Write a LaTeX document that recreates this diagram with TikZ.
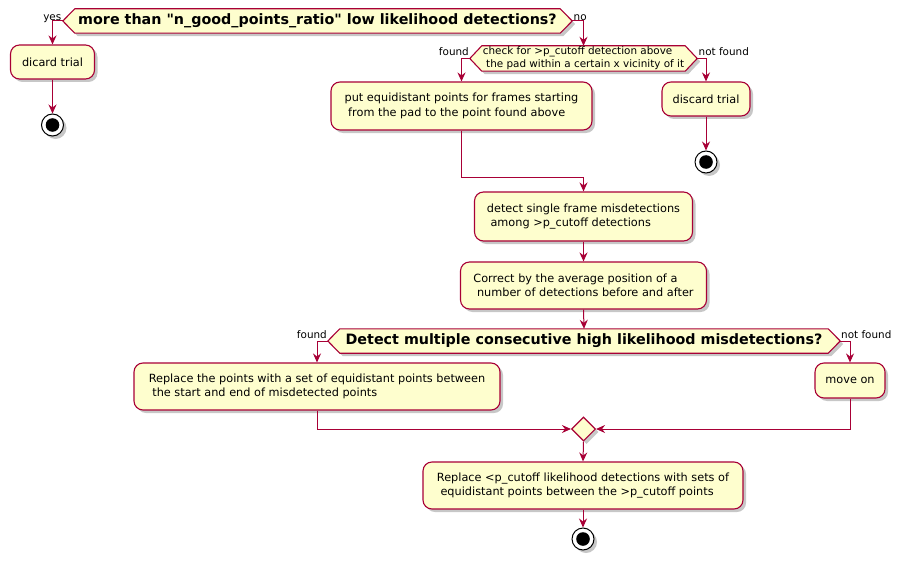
\documentclass[tikz,border=0pt]{standalone}
\usepackage{fontspec}
\setmainfont{DejaVu Sans}
\newfontfamily\plainfont{DejaVu Sans}
\usetikzlibrary{shapes.geometric,arrows.meta,shadows}
\definecolor{pumlred}{HTML}{A80036}
\definecolor{pumlfill}{HTML}{FEFECE}
\newcommand\actfont{\fontsize{11.3}{14.5}\selectfont}
\newcommand\hexbigfont{\fontsize{14.3}{17}\selectfont\bfseries}
\newcommand\hexsmallfont{\fontsize{10.4}{13}\selectfont}
\newcommand\lblfont{\fontsize{10.4}{12}\selectfont}
\newcommand\dq{{\plainfont"}}
\pgfdeclarelayer{bg}
\pgfsetlayers{bg,main}
\tikzset{
  shad/.style={drop shadow={shadow xshift=3pt,shadow yshift=-3pt,opacity=0.22,fill=black}},
  act/.style={draw=pumlred, fill=pumlfill, line width=1.1pt, rounded corners=9pt,
    align=left, font=\actfont, inner sep=0pt, shad},
  hexbody/.style={draw=none, inner sep=0pt, minimum height=24pt, align=left},
  hexline/.style={draw=pumlred, fill=pumlfill, line width=1.1pt, line join=miter,
    preaction={fill=black, fill opacity=0.22, draw=none, transform canvas={xshift=3pt,yshift=-3pt}}},
  flow/.style={draw=pumlred, line width=1pt, -{Stealth[length=9pt,width=8pt,inset=3pt]}},
  lbl/.style={font=\lblfont, inner sep=0pt},
  stopnode/.style={circle, draw=black, fill=white, line width=1pt, minimum size=22pt, inner sep=0pt, shad,
    path picture={\fill[black] (path picture bounding box.center) circle (6.8pt);}},
  mergenode/.style={diamond, aspect=1, draw=pumlred, fill=pumlfill, line width=1.1pt,
    minimum width=24pt, minimum height=24pt, inner sep=0pt, shad},
}
\begin{document}
\begin{tikzpicture}[x=1pt,y=-1pt]
\useasboundingbox (0,0) rectangle (904,567);

% decisions (text bodies)
\node[hexbody, font=\hexbigfont, minimum width=485pt] (d1) at (317.5,21) {more than \dq n\_good\_points\_ratio\dq{} low likelihood detections?};
\node[hexbody, font=\hexsmallfont, minimum width=203pt, minimum height=25pt] (d2) at (583.5,58.5) {check for >p\_cutoff detection above\\~the pad within a certain x vicinity of it};
\node[hexbody, font=\hexbigfont, minimum width=488pt] (d3) at (584,341) {Detect multiple consecutive high likelihood misdetections?};

\begin{pgfonlayer}{bg}
\foreach \n in {d1,d2,d3}
  \draw[hexline] (\n.north west) -- (\n.north east) -- ([xshift=12pt]\n.east)
     -- (\n.south east) -- (\n.south west) -- ([xshift=-12pt]\n.west) -- cycle;
\end{pgfonlayer}

\coordinate (d1L) at ([xshift=-12pt]d1.west);
\coordinate (d1R) at ([xshift=12pt]d1.east);
\coordinate (d2L) at ([xshift=-12pt]d2.west);
\coordinate (d2R) at ([xshift=12pt]d2.east);
\coordinate (d3L) at ([xshift=-12pt]d3.west);
\coordinate (d3R) at ([xshift=12pt]d3.east);

% activities
\node[act, minimum width=84pt, minimum height=34pt] (b1) at (52.5,62) {dicard trial};
\node[stopnode] (s1) at (52.5,125) {};
\node[act, minimum width=261pt, minimum height=48pt] (b2) at (461.5,106) {put equidistant points for frames starting\\~from the pad to the point found above};
\node[act, minimum width=88pt, minimum height=34pt] (b3) at (706,99) {discard trial};
\node[stopnode] (s2) at (706,162) {};
\node[act, minimum width=218pt, minimum height=49pt] (b4) at (583.5,216.5) {detect single frame misdetections\\~among >p\_cutoff detections};
\node[act, minimum width=246pt, minimum height=47pt] (b5) at (583.5,285.5) {Correct by the average position of a\\~number of detections before and after};
\node[act, minimum width=366pt, minimum height=47pt] (b6) at (317,386.5) {Replace the points with a set of equidistant points between\\~the start and end of misdetected points};
\node[act, minimum width=70pt, minimum height=35pt] (b7) at (850,380.5) {move on};
\node[mergenode] (m) at (583.5,429) {};
\node[act, minimum width=320pt, minimum height=47pt] (b8) at (583,485.5) {Replace <p\_cutoff likelihood detections with sets of\\~equidistant points between the >p\_cutoff points};
\node[stopnode] (s3) at (583,539) {};
\coordinate (j1) at (461.5,177);

% connectors
\draw[flow] (d1L) -| (b1.north);
\draw[flow] (b1.south) -- (s1.north);
\draw[flow] (d1R) -| (d2.north);
\draw[flow] (d2L) -| (b2.north);
\draw[flow] (d2R) -| (b3.north);
\draw[flow] (b3.south) -- (s2.north);
\draw[flow] (b2.south) -- (j1) -| (b4.north);
\draw[flow] (b4.south) -- (b5.north);
\draw[flow] (b5.south) -- (d3.north);
\draw[flow] (d3L) -| (b6.north);
\draw[flow] (d3R) -| (b7.north);
\draw[flow] (b6.south) |- (m.west);
\draw[flow] (b7.south) |- (m.east);
\draw[flow] (m.south) -- (b8.north);
\draw[flow] (b8.south) -- (s3.north);

% labels
\node[lbl, anchor=base east] (lyes) at (61.5,20.5) {yes};
\node[lbl, anchor=base west] (lno) at (573.5,20.5) {no};
\node[lbl, anchor=base east] (lf1) at (469,55.5) {found};
\node[lbl, anchor=base west] (lnf1) at (698.5,55.5) {not found};
\node[lbl, anchor=base east] (lf2) at (327,338.5) {found};
\node[lbl, anchor=base west] (lnf2) at (841,338.5) {not found};
\end{tikzpicture}
\end{document}
